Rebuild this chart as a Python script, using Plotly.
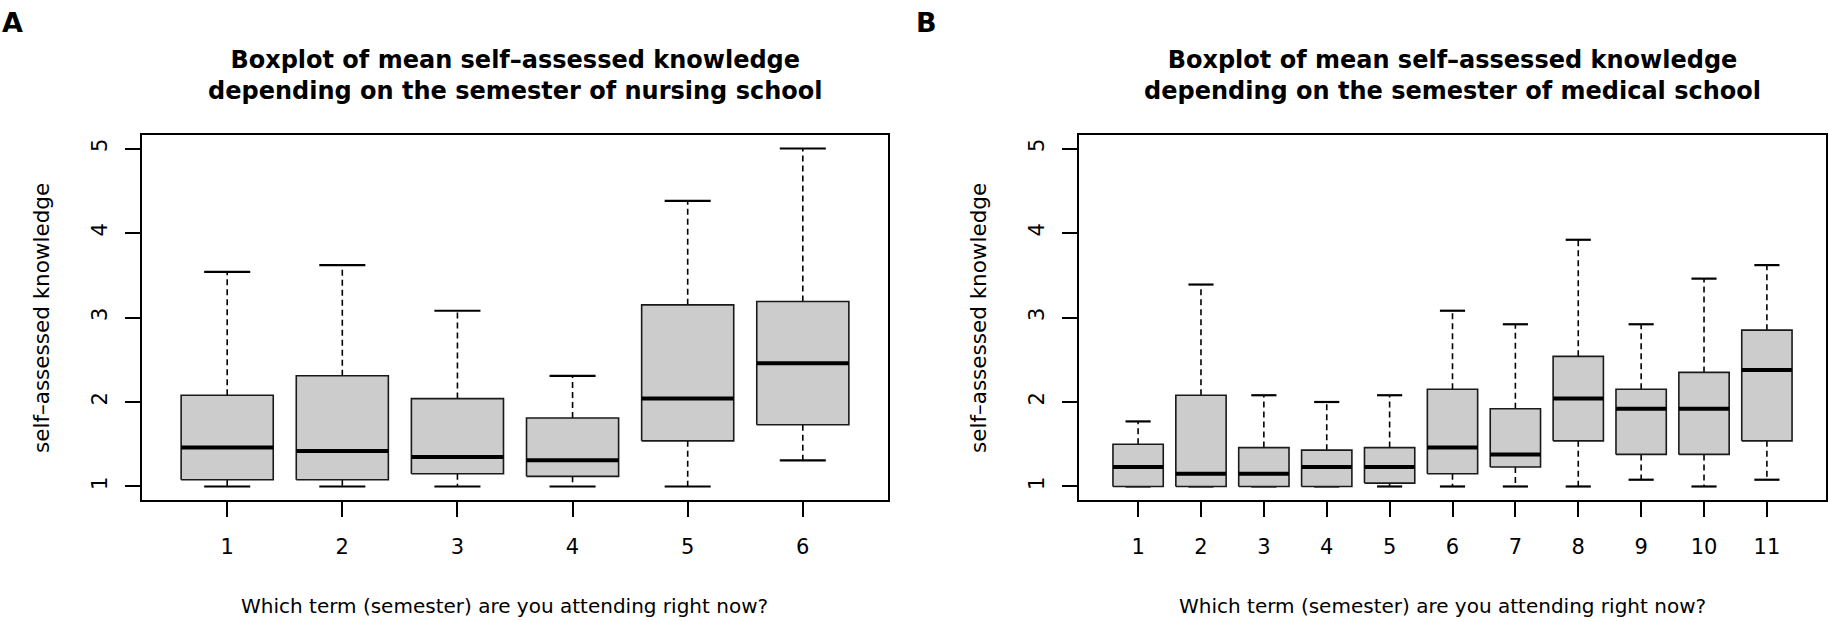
import plotly.graph_objects as go
from plotly.subplots import make_subplots

# --- DATA ---
nursing_terms = [1, 2, 3, 4, 5, 6]
nursing_low = [1.0, 1.0, 1.0, 1.0, 1.0, 1.31]
nursing_q1 = [1.08, 1.08, 1.15, 1.12, 1.54, 1.73]
nursing_med = [1.46, 1.42, 1.35, 1.31, 2.04, 2.46]
nursing_q3 = [2.08, 2.31, 2.04, 1.81, 3.15, 3.19]
nursing_high = [3.54, 3.62, 3.08, 2.31, 4.38, 5.0]

medical_terms = [1, 2, 3, 4, 5, 6, 7, 8, 9, 10, 11]
medical_low = [1.0, 1.0, 1.0, 1.0, 1.0, 1.0, 1.0, 1.0, 1.08, 1.0, 1.08]
medical_q1 = [1.0, 1.0, 1.0, 1.0, 1.04, 1.15, 1.23, 1.54, 1.38, 1.38, 1.54]
medical_med = [1.23, 1.15, 1.15, 1.23, 1.23, 1.46, 1.38, 2.04, 1.92, 1.92, 2.38]
medical_q3 = [1.50, 2.08, 1.46, 1.43, 1.46, 2.15, 1.92, 2.54, 2.15, 2.35, 2.85]
medical_high = [1.77, 3.39, 2.08, 2.0, 2.08, 3.08, 2.92, 3.92, 2.92, 3.46, 3.62]

y_ticks = [1, 2, 3, 4, 5]

FONT = "DejaVu Sans, Liberation Sans, Arial, sans-serif"
BOX_FILL = "#cccccc"
BOX_LINE = "#1a1a1a"
HALF = 0.4      # boxwex 0.8
CAP = 0.2       # staplewex 0.5


def add_boxplot(fig, col, terms, low, q1, med, q3, high):
    bx, by, mx, my, wx, wy, cx, cy = [], [], [], [], [], [], [], []
    for t, lo, a, m, b, hi in zip(terms, low, q1, med, q3, high):
        bx += [t - HALF, t + HALF, t + HALF, t - HALF, t - HALF, None]
        by += [a, a, b, b, a, None]
        mx += [t - HALF, t + HALF, None]
        my += [m, m, None]
        wx += [t, t, None, t, t, None]
        wy += [b, hi, None, a, lo, None]
        cx += [t - CAP, t + CAP, None, t - CAP, t + CAP, None]
        cy += [hi, hi, None, lo, lo, None]

    # dashed whiskers
    fig.add_trace(go.Scatter(x=wx, y=wy, mode="lines",
                             line=dict(color="black", width=1.6, dash="6px,4px"),
                             hoverinfo="skip", showlegend=False), row=1, col=col)
    # whisker caps
    fig.add_trace(go.Scatter(x=cx, y=cy, mode="lines",
                             line=dict(color="black", width=2.2),
                             hoverinfo="skip", showlegend=False), row=1, col=col)
    # boxes
    fig.add_trace(go.Scatter(x=bx, y=by, mode="lines", fill="toself",
                             fillcolor=BOX_FILL,
                             line=dict(color=BOX_LINE, width=1.6),
                             hoverinfo="skip", showlegend=False), row=1, col=col)
    # medians
    fig.add_trace(go.Scatter(x=mx, y=my, mode="lines",
                             line=dict(color="black", width=4),
                             hoverinfo="skip", showlegend=False), row=1, col=col)


fig = make_subplots(rows=1, cols=2)

add_boxplot(fig, 1, nursing_terms, nursing_low, nursing_q1, nursing_med,
            nursing_q3, nursing_high)
add_boxplot(fig, 2, medical_terms, medical_low, medical_q1, medical_med,
            medical_q3, medical_high)

W, H = 1829, 621
axis_common = dict(showgrid=False, zeroline=False, showline=True, mirror=True,
                   linecolor="black", linewidth=2, ticks="outside", ticklen=15,
                   tickwidth=2, tickcolor="black",
                   tickfont=dict(family=FONT, size=21, color="black"))

fig.update_xaxes(**axis_common, ticklabelstandoff=12)
fig.update_yaxes(**axis_common, tickangle=-90, tickvals=y_ticks,
                 range=[0.84, 5.16], domain=[1 - 500 / H, 1 - 135 / H],
                 ticklabelstandoff=10)

fig.update_xaxes(domain=[142 / W, 888 / W], range=[0.26, 6.74],
                 tickvals=nursing_terms, row=1, col=1)
fig.update_xaxes(domain=[1079 / W, 1826 / W], range=[0.06, 11.94],
                 tickvals=medical_terms, row=1, col=2)

titles = [
    ("Boxplot of mean self–assessed knowledge<br>"
     "depending on the semester of nursing school", 515, 505),
    ("Boxplot of mean self–assessed knowledge<br>"
     "depending on the semester of medical school", 1452, 1442),
]
annotations = []
for text, cx, xt in titles:
    annotations.append(dict(text="<b>" + text + "</b>", x=cx / W, y=1 - 76 / H,
                            xref="paper", yref="paper", showarrow=False,
                            xanchor="center", yanchor="middle",
                            font=dict(family=FONT, size=24, color="black")))
    annotations.append(dict(text="Which term (semester) are you attending right now?",
                            x=xt / W, y=1 - 606 / H, xref="paper", yref="paper",
                            showarrow=False, xanchor="center", yanchor="middle",
                            font=dict(family=FONT, size=20, color="black")))

for lx, letter in [(12, "A"), (926, "B")]:
    annotations.append(dict(text="<b>" + letter + "</b>", x=lx / W, y=1 - 22 / H,
                            xref="paper", yref="paper", showarrow=False,
                            xanchor="center", yanchor="middle",
                            font=dict(family=FONT, size=27, color="black")))

for ax in [41, 978]:
    annotations.append(dict(text="self–assessed knowledge", x=ax / W, y=1 - 318 / H,
                            xref="paper", yref="paper", showarrow=False,
                            textangle=-90, xanchor="center", yanchor="middle",
                            font=dict(family=FONT, size=21.5, color="black")))

fig.update_layout(
    width=W, height=H,
    margin=dict(l=0, r=0, t=0, b=0),
    paper_bgcolor="white", plot_bgcolor="white",
    showlegend=False,
    annotations=annotations,
)

# drop the browser's default body margin so the figure sits at the page origin
fig.write_html("out.html", config={"displayModeBar": False},
               post_script="document.body.style.margin = '0';")
